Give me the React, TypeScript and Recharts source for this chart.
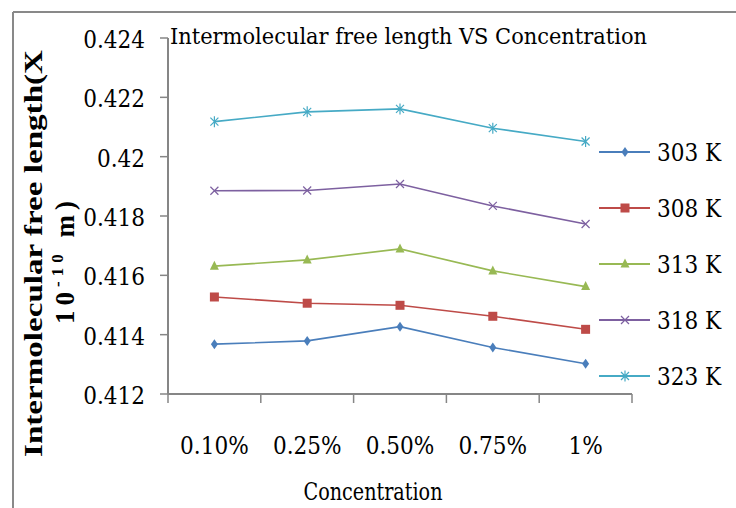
import React from 'react';
import { LineChart, Line, XAxis, YAxis, Legend } from 'recharts';

// concentration categories and intermolecular free length (x 10^-10 m) per temperature
const CONCENTRATIONS = ['0.10%', '0.25%', '0.50%', '0.75%', '1%'];
const SERIES = ['303 K', '308 K', '313 K', '318 K', '323 K'];
const L303 = [0.41368, 0.41379, 0.41427, 0.41357, 0.41302];
const L308 = [0.41527, 0.41506, 0.41499, 0.41462, 0.41418];
const L313 = [0.41631, 0.41652, 0.41689, 0.41615, 0.41562];
const L318 = [0.41885, 0.41886, 0.41908, 0.41834, 0.41773];
const L323 = [0.42118, 0.42151, 0.42161, 0.42096, 0.42051];
const Y_TICKS = [0.412, 0.414, 0.416, 0.418, 0.42, 0.422, 0.424];

const VALUES = [L303, L308, L313, L318, L323];
const data = CONCENTRATIONS.map((conc, i) => {
  const row: Record<string, string | number> = { conc };
  SERIES.forEach((s, k) => { row[s] = VALUES[k][i]; });
  return row;
});

const STYLE: Record<string, { color: string; marker: string }> = {
  '303 K': { color: '#4a7ebb', marker: 'diamond' },
  '308 K': { color: '#be4b48', marker: 'square' },
  '313 K': { color: '#98b954', marker: 'triangle' },
  '318 K': { color: '#7d60a0', marker: 'cross' },
  '323 K': { color: '#46aac5', marker: 'star' },
};

const SERIF = 'DejaVu Serif';
const AXIS = '#868686';
const textFont = { fontFamily: SERIF, fontStretch: 'condensed' as const };

function Marker({ kind, cx, cy, color }: { kind: string; cx: number; cy: number; color: string }) {
  if (cx == null || cy == null) return null;
  switch (kind) {
    case 'diamond':
      return <path d={`M${cx},${cy - 5}L${cx + 3.5},${cy}L${cx},${cy + 5}L${cx - 3.5},${cy}Z`} fill={color} />;
    case 'square':
      return <rect x={cx - 4.5} y={cy - 4.5} width={9} height={9} fill={color} />;
    case 'triangle':
      return <path d={`M${cx},${cy - 5.5}L${cx + 4.5},${cy + 3.5}L${cx - 4.5},${cy + 3.5}Z`} fill={color} />;
    case 'cross':
      return <path d={`M${cx - 4},${cy - 4}L${cx + 4},${cy + 4}M${cx - 4},${cy + 4}L${cx + 4},${cy - 4}`} stroke={color} strokeWidth={1.2} fill="none" />;
    default:
      return <path d={`M${cx - 4},${cy - 4}L${cx + 4},${cy + 4}M${cx - 4},${cy + 4}L${cx + 4},${cy - 4}M${cx},${cy - 5.5}L${cx},${cy + 5.5}`} stroke={color} strokeWidth={1.2} fill="none" />;
  }
}

const renderLegend = () => (
  <svg width={146} height={280} style={{ display: 'block' }}>
    {SERIES.map((name, i) => {
      const y = 28 + i * 56;
      const st = STYLE[name];
      return (
        <g key={name}>
          <line x1={9} x2={60} y1={y} y2={y} stroke={st.color} strokeWidth={2} />
          <Marker kind={st.marker} cx={35} cy={y} color={st.color} />
          <text x={67} y={y + 9} fontSize={24} style={textFont} fill="#000">{name}</text>
        </g>
      );
    })}
  </svg>
);

// category tick: label at band centre, tick marks on band boundaries
const XTick = (props: any) => {
  const { x, y, payload, index, width, visibleTicksCount } = props;
  const band = width / visibleTicksCount;
  const axisY = y - 32;
  return (
    <g>
      <line x1={x - band / 2} x2={x - band / 2} y1={axisY} y2={axisY + 9} stroke={AXIS} strokeWidth={1.5} />
      {index === visibleTicksCount - 1 && (
        <line x1={x + band / 2} x2={x + band / 2} y1={axisY} y2={axisY + 9} stroke={AXIS} strokeWidth={1.5} />
      )}
      <text x={x} y={y + 28} textAnchor="middle" fontSize={24} style={textFont} fill="#000">{payload.value}</text>
    </g>
  );
};

const YTick = (props: any) => {
  const { x, y, payload } = props;
  return (
    <text x={x} y={y + 10} textAnchor="end" fontSize={24} style={textFont} fill="#000">{String(payload.value)}</text>
  );
};

const renderXLabel = (props: any) => {
  const vb = props.viewBox || {};
  return (
    <text x={vb.x + vb.width / 2 - 27} y={vb.y + vb.height + 6} textAnchor="middle" fontSize={24} style={textFont} fill="#000" textLength={139} lengthAdjust="spacingAndGlyphs">
      Concentration
    </text>
  );
};

export default function App() {
  return (
    <div style={{ position: 'absolute', left: 0, top: 0, width: 736, height: 508, background: '#fff' }}>
      <LineChart width={736} height={508} data={data} margin={{ top: 38, right: 104, bottom: 14, left: 98 }}>
        <XAxis
          dataKey="conc"
          scale="band"
          height={100}
          axisLine={{ stroke: AXIS, strokeWidth: 2 }}
          tickLine={false}
          tickSize={0}
          tickMargin={32}
          interval={0}
          tick={<XTick />}
          label={{ content: renderXLabel }}
        />
        <YAxis
          width={70}
          domain={[0.412, 0.424]}
          ticks={Y_TICKS}
          interval={0}
          allowDataOverflow
          tickSize={8}
          tickMargin={15}
          axisLine={{ stroke: AXIS, strokeWidth: 2 }}
          tickLine={{ stroke: AXIS, strokeWidth: 1.5 }}
          tick={<YTick />}
        />
        <Legend
          layout="vertical"
          align="center"
          verticalAlign="middle"
          content={renderLegend}
          wrapperStyle={{ left: 590, top: 124, width: 146, height: 280 }}
        />
        {SERIES.map((name) => (
          <Line
            key={name}
            type="linear"
            dataKey={name}
            stroke={STYLE[name].color}
            strokeWidth={1.6}
            isAnimationActive={false}
            activeDot={false}
            dot={(p: any) => <Marker key={`${name}-${p.index}`} kind={STYLE[name].marker} cx={p.cx} cy={p.cy} color={STYLE[name].color} />}
          />
        ))}
      </LineChart>
      <svg width={736} height={508} style={{ position: 'absolute', left: 0, top: 0, pointerEvents: 'none' }}>
        <line x1={13} y1={12} x2={736} y2={12} stroke="#898989" strokeWidth={2} />
        <line x1={13} y1={12} x2={13} y2={508} stroke="#898989" strokeWidth={2} />
        <text x={170} y={44} fontSize={23} style={textFont} fill="#000" textLength={477} lengthAdjust="spacingAndGlyphs">
          Intermolecular free length VS Concentration
        </text>
        <text transform="translate(42,253.5) rotate(-90)" textAnchor="middle" fontSize={26} fontWeight="bold" fontFamily="Liberation Serif" fill="#000" textLength={407} lengthAdjust="spacingAndGlyphs">
          Intermolecular free length(X
        </text>
        <text transform="translate(74,260) rotate(-90)" textAnchor="middle" fontSize={27} fontWeight="bold" fontFamily="Liberation Serif" fill="#000" letterSpacing={5}>
          10<tspan fontSize={17} dy={-11}>-10</tspan><tspan dy={11}> m)</tspan>
        </text>
      </svg>
    </div>
  );
}
